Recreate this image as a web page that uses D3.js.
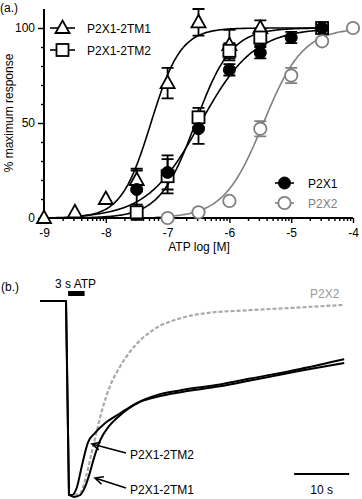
<!DOCTYPE html>
<html><head><meta charset="utf-8">
<script src="https://cdn.jsdelivr.net/npm/d3@7"></script>
<style>body{margin:0;background:#fff}svg{display:block;font-family:"Liberation Sans",Arial,sans-serif}</style>
</head><body><svg id="c" width="362" height="499"></svg>
<script>
// ---------- Panel (a) data ----------
const logATP = [-9,-8.5,-8,-7.5,-7,-6.5,-6,-5.5,-5,-4.5,-4];
const tm1Val = [0,3,10,20,71,103,91,100,null,null,null];
const tm1Err = [0,0,0,6,8,7,8,4,0,0,0];
const tm2Val = [null,null,null,3,22,53,88,95,null,100,null];
const tm2Err = [0,0,0,4,9,5,4,4,0,0,0];
const p2x1Val = [null,null,null,15,24,47,78,87,95,100,null];
const p2x1Err = [0,0,0,10,9,8,3,3,3,0,0];
const p2x2Val = [null,null,null,null,0,3,9,47,75,93,100];
const p2x2Err = [0,0,0,0,0,0,0,4,4,0,0];
// Hill fit parameters [logEC50, hill slope, fromLog, toLog]
const tm1Fit = [-7.27,1.8,-9,-4.5];
const tm2Fit = [-6.55,1.5,-8.5,-4.5];
const p2x1Fit = [-6.47,1.0,-8.5,-4.5];
const p2x2Fit = [-5.45,1.35,-7.2,-4];
const xTicks = [-9,-8,-7,-6,-5,-4];
const yTicks = [0,50,100];

// ---------- Panel (b) data: time (s), normalised current ----------
const tm2T = [-4.9,-0.18,0.36,0.9,1.8,2.7,3.8,5.1,6.9,9.6,12.4,16.9,20.7,27.8,33.3,42.4,50.4];
const tm2I = [0,0,-1.0,-1.0,-0.96,-0.85,-0.73,-0.68,-0.63,-0.58,-0.53,-0.48,-0.46,-0.43,-0.40,-0.35,-0.30];
const tm1T = [-4.9,-0.18,0.36,1.3,2.4,3.1,4.0,4.9,6.0,7.5,9.6,13.3,16.9,20.7,27.8,33.3,42.4,50.4];
const tm1I = [0,0,-1.0,-1.01,-1.0,-0.97,-0.90,-0.81,-0.72,-0.65,-0.59,-0.52,-0.49,-0.47,-0.44,-0.41,-0.36,-0.32];
const p2x2T = [1.3,2.4,3.5,4.5,5.5,6.4,7.8,9.6,11.5,15.6,20.5,26.0,31.5,40.5,50.4];
const p2x2I = [-1.0,-0.99,-0.90,-0.78,-0.66,-0.56,-0.44,-0.34,-0.26,-0.15,-0.09,-0.06,-0.05,-0.036,-0.02];

const svg = d3.select("#c");
const FS = 12;
const black = "#000", grey = "#808080";

// ---------- Panel (a) ----------
const x = d3.scaleLinear().domain([-9,-4]).range([44,353]);
const y = d3.scaleLinear().domain([0,110]).range([218,9]);

svg.append("text").attr("x",0).attr("y",12).attr("font-size",FS).text("(a.)");

// fitted curves
function hill(p){
  const pts = d3.range(p[2], p[3]+0.0001, 0.02).map(l => [l, 100/(1+Math.pow(10,(p[0]-l)*p[1]))]);
  return pts;
}
const line = d3.line().x(d=>x(d[0])).y(d=>y(d[1])).curve(d3.curveLinear);
[[tm1Fit,black],[tm2Fit,black],[p2x1Fit,black],[p2x2Fit,grey]].forEach(([p,c])=>{
  svg.append("path").attr("d",line(hill(p))).attr("fill","none").attr("stroke",c).attr("stroke-width",1.6);
});

// axes
const gx = svg.append("g").attr("transform",`translate(0,${y(0)})`);
gx.call(d3.axisBottom(x).tickValues(xTicks).tickSize(5).tickPadding(5).tickFormat(d=>String(d)));
const minors=[];
for(let d=-9; d<-4; d++) for(let k=2;k<=9;k++) minors.push(d+Math.log10(k));
const gxm = svg.append("g").attr("transform",`translate(0,${y(0)})`);
gxm.call(d3.axisBottom(x).tickValues(minors).tickSize(3).tickFormat(""));
gxm.select(".domain").remove();
const gy = svg.append("g").attr("transform",`translate(${x(-9)},0)`);
gy.call(d3.axisLeft(y).tickValues(yTicks).tickSize(6).tickPadding(3));
const gym = svg.append("g").attr("transform",`translate(${x(-9)},0)`);
gym.call(d3.axisLeft(y).tickValues([10,20,30,40,60,70,80,90]).tickSize(3).tickFormat(""));
gym.select(".domain").remove();
svg.selectAll(".domain").attr("stroke-width",2).attr("d",function(){return d3.select(this).attr("d");});
gx.select(".domain").attr("d",`M${x(-9)},0H${x(-4)}`);
gy.select(".domain").attr("d",`M0,${y(0)}V${y(110)}`);
svg.selectAll(".tick line").attr("stroke-width",1.4);
svg.selectAll(".tick text").attr("font-size",FS).attr("font-family","Liberation Sans, Arial, sans-serif").attr("fill","#000");

svg.append("text").attr("x",199).attr("y",251).attr("text-anchor","middle").attr("font-size",FS).text("ATP log [M]");
svg.append("text").attr("transform","translate(13,113) rotate(-90)").attr("text-anchor","middle").attr("font-size",FS).text("% maximum response");

// markers
function marker(g, type, cx, cy, color){
  if(type==="tri"){
    g.append("path").attr("d",`M${cx},${cy-7.5}L${cx+7},${cy+5}L${cx-7},${cy+5}Z`)
     .attr("fill","#fff").attr("stroke",color).attr("stroke-width",1.8);
  } else if(type==="sq"){
    g.append("rect").attr("x",cx-6).attr("y",cy-6).attr("width",12).attr("height",12)
     .attr("fill","#fff").attr("stroke",color).attr("stroke-width",1.8);
  } else if(type==="fc"){
    g.append("circle").attr("cx",cx).attr("cy",cy).attr("r",6).attr("fill",color).attr("stroke",color).attr("stroke-width",1);
  } else {
    g.append("circle").attr("cx",cx).attr("cy",cy).attr("r",6.2).attr("fill","#fff").attr("stroke",color).attr("stroke-width",1.8);
  }
}
const series = [
  [tm1Val,tm1Err,"tri",black],
  [tm2Val,tm2Err,"sq",black],
  [p2x1Val,p2x1Err,"fc",black],
  [p2x2Val,p2x2Err,"oc",grey]
];
const gm = svg.append("g");
series.forEach(([vals,errs,type,color])=>{
  vals.forEach((v,i)=>{
    if(v===null) return;
    const e = errs[i];
    if(e>0){
      const cx=x(logATP[i]);
      gm.append("path").attr("d",`M${cx},${y(v-e)}V${y(v+e)}M${cx-6},${y(v-e)}H${cx+6}M${cx-6},${y(v+e)}H${cx+6}`)
        .attr("stroke",color).attr("stroke-width",1.8).attr("fill","none");
    }
  });
});
series.forEach(([vals,errs,type,color])=>{
  vals.forEach((v,i)=>{ if(v!==null) marker(gm,type,x(logATP[i]),y(v),color); });
});

// legends
const legA = [["P2X1-2TM1","tri",black,50,28],["P2X1-2TM2","sq",black,50,50],
              ["P2X1","fc",black,275,183],["P2X2","oc",grey,275,203]];
legA.forEach(([lab,type,color,lx,ly])=>{
  const w = lx<100?25:19;
  svg.append("line").attr("x1",lx).attr("x2",lx+w).attr("y1",ly).attr("y2",ly).attr("stroke",color).attr("stroke-width",1.6);
  marker(svg,type,lx+w/2,ly,color);
  svg.append("text").attr("x",lx+w+(lx<100?12:14)).attr("y",ly+4.5).attr("font-size",FS).attr("fill",color).text(lab);
});

// ---------- Panel (b) ----------
const xt = d3.scaleLinear().domain([0,10]).range([67,122]);
const yI = d3.scaleLinear().domain([0,-1]).range([301,495]);
svg.append("text").attr("x",1).attr("y",291).attr("font-size",FS).text("(b.)");
svg.append("text").attr("x",55).attr("y",288).attr("font-size",FS).text("3 s ATP");
svg.append("rect").attr("x",xt(0.2)).attr("y",291).attr("width",xt(3.2)-xt(0.2)).attr("height",5).attr("fill",black);

const tl = d3.line().x(d=>xt(d[0])).y(d=>yI(d[1])).curve(d3.curveMonotoneX);
const tlRaw = d3.line().x(d=>xt(d[0])).y(d=>yI(d[1]));
svg.append("path").attr("d",tl(p2x2T.map((t,i)=>[t,p2x2I[i]]))).attr("fill","none")
  .attr("stroke","#aaa").attr("stroke-width",2.2).attr("stroke-dasharray","4,2");
function trace(T,I){
  const pts=T.map((t,i)=>[t,I[i]]);
  const head=pts.slice(0,3), tail=pts.slice(2);
  svg.append("path").attr("d",tlRaw(head)+tl(tail).replace(/^M/,"L")).attr("fill","none")
    .attr("stroke",black).attr("stroke-width",2).attr("stroke-linejoin","round");
}
trace(tm1T,tm1I);
trace(tm2T,tm2I);

svg.append("text").attr("x",310).attr("y",298).attr("font-size",FS).attr("fill","#999").text("P2X2");

// arrows
function arrow(x1,y1,x2,y2){
  const a=Math.atan2(y1-y2,x1-x2), L=9, s=0.45;
  svg.append("path").attr("d",`M${x1},${y1}L${x2},${y2}M${x2+L*Math.cos(a+s)},${y2+L*Math.sin(a+s)}L${x2},${y2}L${x2+L*Math.cos(a-s)},${y2+L*Math.sin(a-s)}`)
    .attr("stroke",black).attr("stroke-width",1.6).attr("fill","none");
}
arrow(126,453,92,444);
arrow(126,488,95,478);
svg.append("text").attr("x",130).attr("y",459).attr("font-size",FS).text("P2X1-2TM2");
svg.append("text").attr("x",130).attr("y",494).attr("font-size",FS).text("P2X1-2TM1");

// scale bar 10 s
svg.append("line").attr("x1",xt(41.3)).attr("x2",xt(51.3)).attr("y1",474).attr("y2",474).attr("stroke",black).attr("stroke-width",2);
svg.append("text").attr("x",(xt(41.3)+xt(51.3))/2).attr("y",494).attr("text-anchor","middle").attr("font-size",FS).text("10 s");
</script></body></html>
